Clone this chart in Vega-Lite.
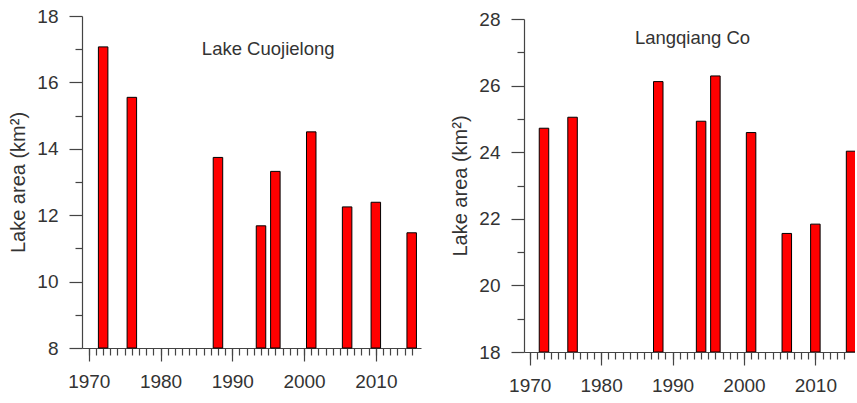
{
  "$schema": "https://vega.github.io/schema/vega-lite/v6.json",
  "padding": {"left": 8, "top": 7, "right": 0, "bottom": 0},
  "background": "white",
  "spacing": 29,
  "config": {
    "view": {"stroke": null},
    "font": "Liberation Sans",
    "axis": {
      "domainColor": "#444",
      "tickColor": "#444",
      "labelColor": "#333",
      "titleColor": "#333",
      "labelFont": "Liberation Sans",
      "titleFont": "Liberation Sans",
      "labelFontSize": 19,
      "titleFontSize": 20,
      "titleFontWeight": "normal",
      "grid": false,
      "domainWidth": 1.2,
      "tickWidth": 1.2
    }
  },
  "datasets": {
    "cuo": [
      {"year": 1972, "area": 17.07},
      {"year": 1976, "area": 15.55},
      {"year": 1988, "area": 13.74},
      {"year": 1994, "area": 11.68},
      {"year": 1996, "area": 13.32},
      {"year": 2001, "area": 14.51},
      {"year": 2006, "area": 12.25},
      {"year": 2010, "area": 12.39},
      {"year": 2015, "area": 11.47}
    ],
    "lang": [
      {"year": 1972, "area": 24.72},
      {"year": 1976, "area": 25.05},
      {"year": 1988, "area": 26.12},
      {"year": 1994, "area": 24.93},
      {"year": 1996, "area": 26.29},
      {"year": 2001, "area": 24.59},
      {"year": 2006, "area": 21.56},
      {"year": 2010, "area": 21.84},
      {"year": 2015, "area": 24.03}
    ]
  },
  "hconcat": [
    {
      "width": 339,
      "height": 332,
      "layer": [
        {
          "data": {"name": "cuo"},
          "mark": {"type": "bar", "size": 9.5, "fill": "#ff0000", "stroke": "#000", "strokeWidth": 1},
          "encoding": {
            "x": {"field": "year", "type": "quantitative",
              "scale": {"domain": [1969.75, 2015.6], "nice": false, "zero": false},
              "axis": {"orient": "bottom", "values": [1970, 1980, 1990, 2000, 2010], "format": "d", "tickSize": 13, "labelPadding": 11, "title": null}},
            "y": {"field": "area", "type": "quantitative",
              "scale": {"domain": [8, 18], "nice": false, "zero": false},
              "axis": {"orient": "left", "values": [8, 10, 12, 14, 16, 18], "tickSize": 13, "labelPadding": 11, "title": "Lake area (km²)", "titlePadding": 8}},
            "y2": {"datum": 8}
          }
        },
        {
          "data": {"values": [{"year": 1995, "area": 17.0, "label": "Lake Cuojielong"}]},
          "mark": {"type": "text", "fontSize": 18.5, "color": "#333", "font": "Liberation Sans"},
          "encoding": {
            "x": {"field": "year", "type": "quantitative",
              "axis": {"orient": "bottom", "values": [1970,1971,1972,1973,1974,1975,1976,1977,1978,1979,1980,1981,1982,1983,1984,1985,1986,1987,1988,1989,1990,1991,1992,1993,1994,1995,1996,1997,1998,1999,2000,2001,2002,2003,2004,2005,2006,2007,2008,2009,2010,2011,2012,2013,2014,2015], "labels": false, "domain": false, "tickSize": 7, "title": null}},
            "y": {"field": "area", "type": "quantitative",
              "axis": {"orient": "left", "values": [9, 11, 13, 15, 17], "labels": false, "domain": false, "tickSize": 7, "title": null}},
            "text": {"field": "label"}
          }
        }
      ],
      "resolve": {"axis": {"x": "independent", "y": "independent"}}
    },
    {
      "width": 331,
      "height": 336,
      "layer": [
        {
          "data": {"name": "lang"},
          "mark": {"type": "bar", "size": 9.5, "fill": "#ff0000", "stroke": "#000", "strokeWidth": 1, "clip": true},
          "encoding": {
            "x": {"field": "year", "type": "quantitative",
              "scale": {"domain": [1969.9, 2014.85], "nice": false, "zero": false},
              "axis": {"orient": "bottom", "values": [1970, 1980, 1990, 2000, 2010], "format": "d", "tickSize": 13, "labelPadding": 11, "title": null}},
            "y": {"field": "area", "type": "quantitative",
              "scale": {"domain": [18, 28], "nice": false, "zero": false, "range": [336, 3]},
              "axis": {"orient": "left", "values": [18, 20, 22, 24, 26, 28], "tickSize": 13, "labelPadding": 11, "title": "Lake area (km²)", "titlePadding": 8}},
            "y2": {"datum": 18}
          }
        },
        {
          "data": {"values": [{"year": 1992.8, "area": 27.42, "label": "Langqiang Co"}]},
          "mark": {"type": "text", "fontSize": 18.5, "color": "#333", "font": "Liberation Sans"},
          "encoding": {
            "x": {"field": "year", "type": "quantitative",
              "axis": {"orient": "bottom", "values": [1970,1971,1972,1973,1974,1975,1976,1977,1978,1979,1980,1981,1982,1983,1984,1985,1986,1987,1988,1989,1990,1991,1992,1993,1994,1995,1996,1997,1998,1999,2000,2001,2002,2003,2004,2005,2006,2007,2008,2009,2010,2011,2012,2013,2014], "labels": false, "domain": false, "tickSize": 7, "title": null}},
            "y": {"field": "area", "type": "quantitative",
              "axis": {"orient": "left", "values": [19, 21, 23, 25, 27], "labels": false, "domain": false, "tickSize": 7, "title": null}},
            "text": {"field": "label"}
          }
        }
      ],
      "resolve": {"axis": {"x": "independent", "y": "independent"}}
    }
  ]
}
